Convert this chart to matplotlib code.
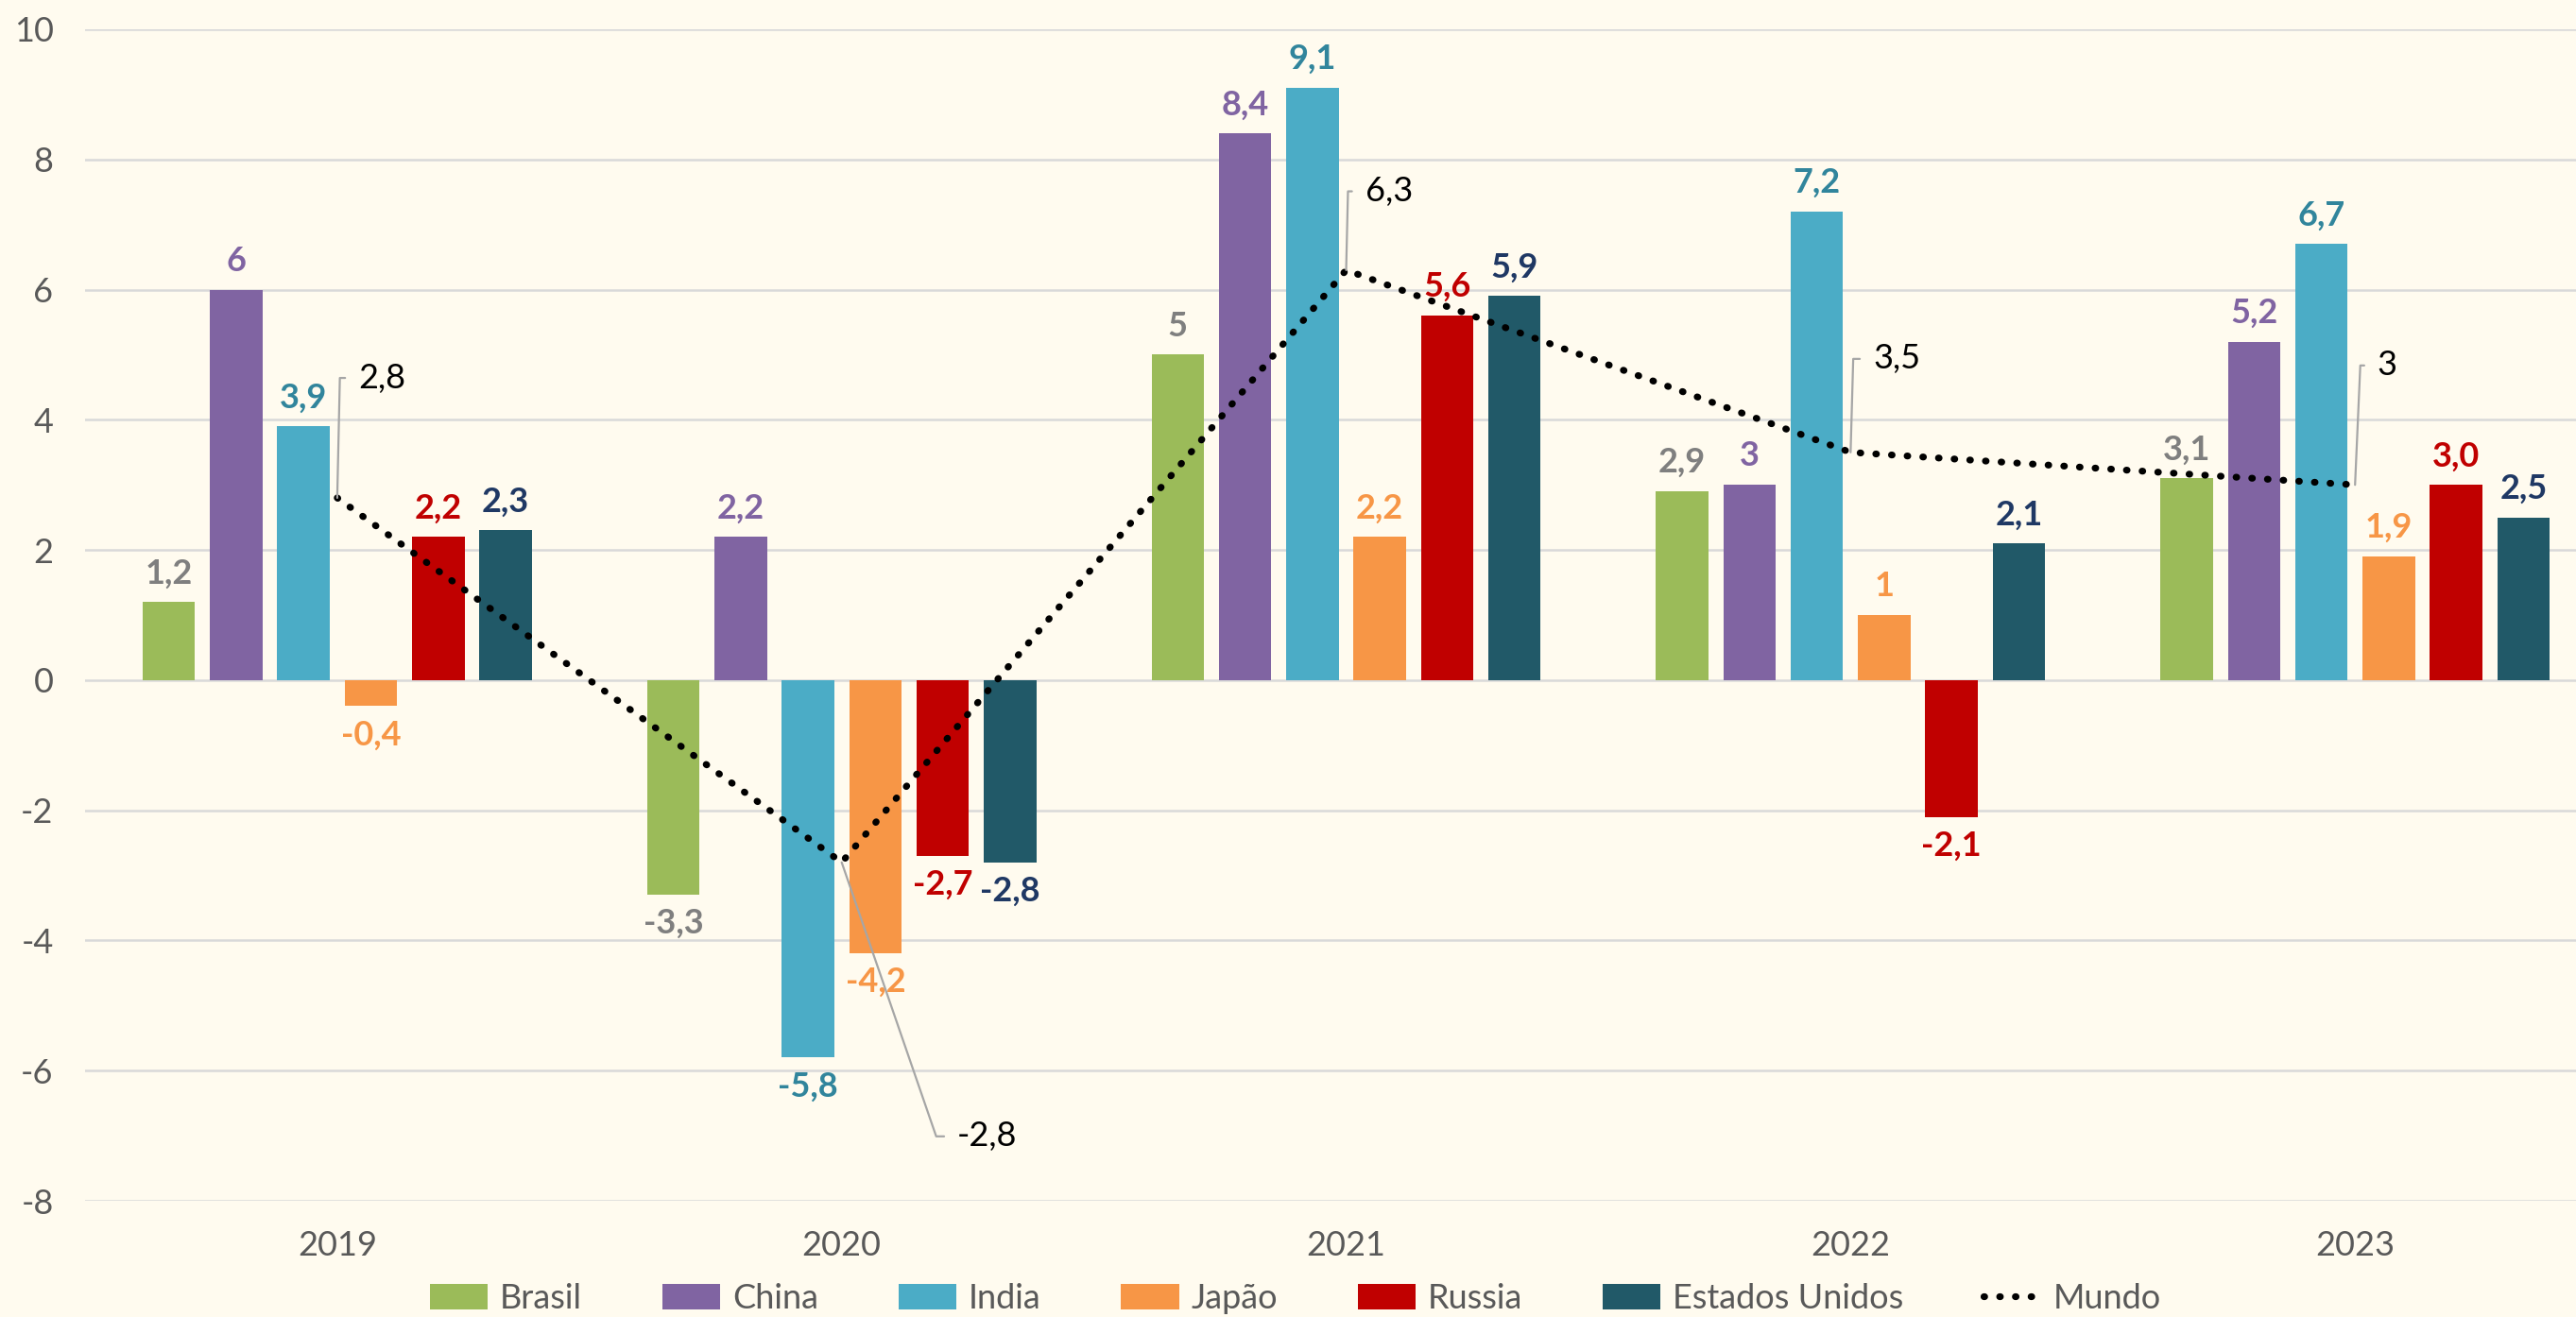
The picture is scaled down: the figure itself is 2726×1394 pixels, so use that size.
import numpy as np
import matplotlib
matplotlib.use("Agg")
import matplotlib.pyplot as plt

plt.rcParams['font.family'] = ['Lato', 'DejaVu Sans']
plt.rcParams['axes.unicode_minus'] = False

anos = ['2019', '2020', '2021', '2022', '2023']
paises = ['Brasil', 'China', 'India', 'Japão', 'Russia', 'Estados Unidos']

brasil = [1.2, -3.3, 5.0, 2.9, 3.1]
china = [6.0, 2.2, 8.4, 3.0, 5.2]
india = [3.9, -5.8, 9.1, 7.2, 6.7]
japao = [-0.4, -4.2, 2.2, 1.0, 1.9]
russia = [2.2, -2.7, 5.6, -2.1, 3.0]
eua = [2.3, -2.8, 5.9, 2.1, 2.5]
mundo = [2.8, -2.8, 6.3, 3.5, 3.0]

cores_barra = ['#9BBB59', '#8064A2', '#4BACC6', '#F79646', '#C00000', '#215968']
cores_rotulo = ['#7F7F7F', '#8064A2', '#31859C', '#F79646', '#C00000', '#1F3864']
BG = '#FFFBEF'
FS = 13


def fmt(v):
    # formato "geral" com virgula decimal
    s = f'{v:.1f}'
    if s.endswith('.0'):
        s = s[:-2]
    return s.replace('.', ',')


def fmt1(v):
    return f'{v:.1f}'.replace('.', ',')


fig = plt.figure(figsize=(13.63, 6.97), dpi=200, facecolor=BG)
ax = fig.add_axes([0.033, 0.0882, 0.967, 0.8896], facecolor=BG)

x = np.arange(len(anos))
largura = 0.104
passo = 0.1335
series = [brasil, china, india, japao, russia, eua]

for i, (nome, vals) in enumerate(zip(paises, series)):
    bars = ax.bar(x + (i - 2.5) * passo, vals, largura, color=cores_barra[i],
                  label=nome, zorder=2)
    f = fmt1 if nome == 'Russia' else fmt
    ax.bar_label(bars, labels=[f(v) for v in vals], padding=5,
                 color=cores_rotulo[i], fontweight='bold', fontsize=FS)

ax.plot(x, mundo, color='black', linestyle=(0, (0.1, 2.2)), lw=2.6,
        dash_capstyle='round', zorder=4, label='Mundo')

# rotulos do Mundo com linha guia (canto em pontos, inicio do texto em pontos)
guias = [((1, 45.7), 8), ((36, -104.4), 44), ((0.7, 30), 7.2),
         ((1, 35.6), 8.5), ((2, 45.5), 8.5)]
for xi, v, ((cx, cy), tx) in zip(x, mundo, guias):
    ang = np.degrees(np.arctan2(cy, cx))
    ax.annotate(fmt(v), xy=(xi, v), xytext=(tx, cy), textcoords='offset points',
                ha='left', va='center', fontsize=FS, color='black', zorder=5,
                arrowprops=dict(arrowstyle='-', color='#A6A6A6', lw=0.8,
                                relpos=(0, 0.5), shrinkA=3, shrinkB=0,
                                connectionstyle=f'angle,angleA=0,angleB={ang},rad=0'))

ax.set_xlim(-0.5, 4.438)
ax.set_ylim(-8, 10)
ax.set_yticks(np.arange(-8, 11, 2))
ax.set_xticks(x, anos)
ax.grid(axis='y', color='#D9D9D9', lw=0.9, zorder=0)
ax.tick_params(axis='both', length=0, labelsize=FS, labelcolor='#595959')
ax.tick_params(axis='y', pad=12)
ax.tick_params(axis='x', pad=11)
for s in ax.spines.values():
    s.set_visible(False)

handles, labels = ax.get_legend_handles_labels()
handles = handles[1:] + handles[:1]
labels = labels[1:] + labels[:1]
leg = fig.legend(handles, labels, loc='center', bbox_to_anchor=(0.503, 0.014),
                 ncol=7, frameon=False, fontsize=FS, handlelength=1.7,
                 handleheight=0.75, handletextpad=0.35, columnspacing=2.35)
for t in leg.get_texts():
    t.set_color('#595959')

fig.savefig('out.png', dpi=200, facecolor=BG)
